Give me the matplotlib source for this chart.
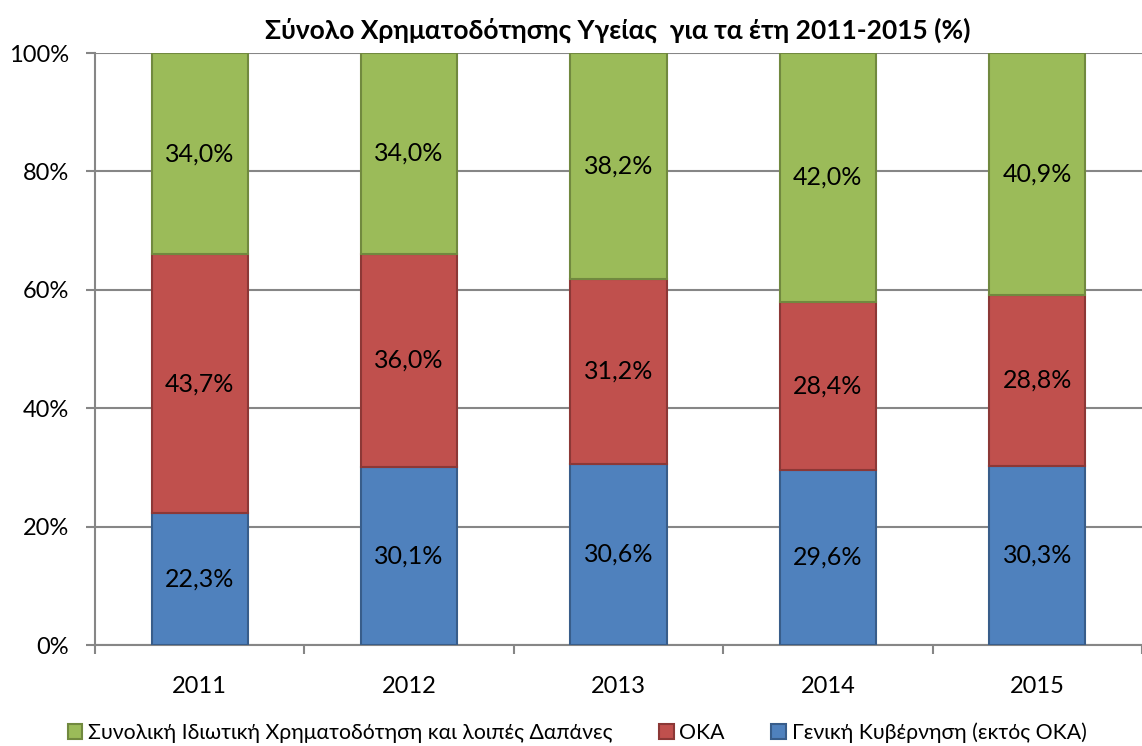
import matplotlib
matplotlib.use("Agg")
import matplotlib.pyplot as plt
import numpy as np

years = ["2011", "2012", "2013", "2014", "2015"]
gov = [22.3, 30.1, 30.6, 29.6, 30.3]
oka = [43.7, 36.0, 31.2, 28.4, 28.8]
private = [34.0, 34.0, 38.2, 42.0, 40.9]
series_names = ["Συνολική Ιδιωτική Χρηματοδότηση και λοιπές Δαπάνες", "ΟΚΑ",
                "Γενική Κυβέρνηση (εκτός ΟΚΑ)"]
title = "Σύνολο Χρηματοδότησης Υγείας  για τα έτη 2011-2015 (%)"

plt.rcParams['font.family'] = ['Lato', 'DejaVu Sans']

fig = plt.figure(figsize=(11.42, 7.46), dpi=100)
W, H = 1142, 746
ax = fig.add_axes([95 / W, (H - 645) / H, (1142 - 95) / W, (645 - 53) / H])

g = np.array(gov); o = np.array(oka); p = np.array(private)
tot = g + o + p
gs, os_, ps = g / tot * 100, o / tot * 100, p / tot * 100
x = np.arange(len(years))
bw = 0.46
b1 = ax.bar(x, gs, bw, color="#4F81BD", edgecolor="#385D8A", linewidth=1.5, zorder=3)
b2 = ax.bar(x, os_, bw, bottom=gs, color="#C0504D", edgecolor="#8C3836", linewidth=1.5, zorder=3)
b3 = ax.bar(x, ps, bw, bottom=gs + os_, color="#9BBB59", edgecolor="#71893F", linewidth=1.5, zorder=3)

FS = 17
LFS = 18
fmt = lambda v: f"{v:.1f}%".replace(".", ",")
for i in range(len(years)):
    ax.text(x[i], gs[i] / 2, fmt(gov[i]), ha="center", va="center", fontsize=LFS, zorder=4)
    ax.text(x[i], gs[i] + os_[i] / 2, fmt(oka[i]), ha="center", va="center", fontsize=LFS, zorder=4)
    ax.text(x[i], gs[i] + os_[i] + ps[i] / 2, fmt(private[i]), ha="center", va="center", fontsize=LFS, zorder=4)

ax.set_xlim(-0.5, len(years) - 0.5)
ax.set_ylim(0, 100)
ax.set_yticks(np.arange(0, 101, 20))
ax.set_yticklabels([f"{v}%" for v in range(0, 101, 20)], fontsize=FS)
ax.yaxis.grid(True, color="#868686", linewidth=1.5, zorder=0)
ax.set_axisbelow(True)
ax.set_xticks(x)
ax.set_xticklabels(years, fontsize=FS)
ax.tick_params(axis="x", length=0, pad=22)
ax.set_xticks(np.arange(-0.5, len(years), 1), minor=True)
ax.tick_params(axis="x", which="minor", length=6.5, color="#868686", width=1.5)
ax.tick_params(axis="y", length=6.5, color="#868686", width=1.5, pad=12)
for s in ["top", "right"]:
    ax.spines[s].set_visible(False)
ax.spines["left"].set_color("#868686")
ax.spines["left"].set_linewidth(1.5)
ax.spines["bottom"].set_color("#868686")
ax.spines["bottom"].set_linewidth(1.5)

fig.text(618 / W, 1 - 30 / H, title, ha="center", va="center", fontsize=19, fontweight="bold")

leg = fig.legend([b3, b2, b1], series_names, loc="center", bbox_to_anchor=(577 / W, 1 - 733 / H),
                 ncol=3, frameon=False, fontsize=15.3, handlelength=0.7, handleheight=0.7,
                 handletextpad=0.25, columnspacing=2.2)

fig.savefig("out.png", dpi=100)
